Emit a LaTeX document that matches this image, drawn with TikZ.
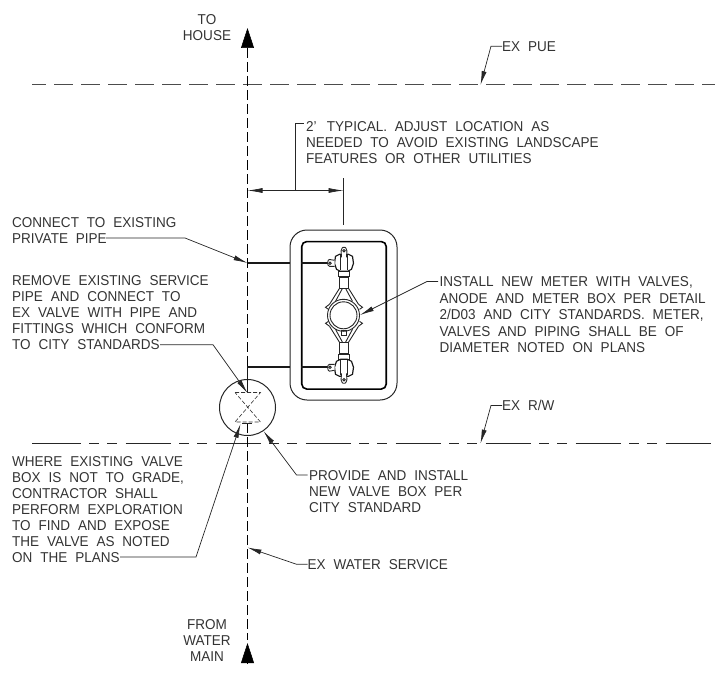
\documentclass[tikz,border=0pt]{standalone}
\usepackage{fontspec}
\setmainfont[WordSpace=2.1,FakeStretch=.945]{Liberation Sans}
\usetikzlibrary{arrows.meta}

\begin{document}
\begin{tikzpicture}
  [x=1pt,y=-1pt,
   every node/.style={inner sep=0pt,text=black!80},
   note/.style={anchor=north west,align=left,font=\fontsize{14.3}{16}\selectfont},
   centernote/.style={anchor=center,align=center,font=\fontsize{14.3}{16}\selectfont},
   leader/.style={line width=.7pt,black!85,-{Latex[length=14pt,width=5pt]}},
   bigarrow/.style={line width=.5pt,-{Triangle[length=20pt,width=13pt]}},
   service/.style={line width=.7pt,dash pattern=on 10pt off 4pt},
   pipe/.style={line width=1.9pt,black!90},
   thin part/.style={line width=.9pt,black!85},
   meterhalf/.pic={
     \draw[thin part,fill=white] (-5,-44) rectangle (6,-39);
     \draw[thin part] (-4,-38) rectangle (5,-27);
     \draw[thin part] (-4,-27) -- (-14,-11) (5,-27) -- (15,-11);
     \draw[thin part] (-1,-27) -- (-8,-14) (2,-27) -- (9,-14);
     \draw[thin part] (-14,-11) -- (-18,-8) -- (-15,-6) (15,-11) -- (19,-8) -- (16,-6);
     \draw[pipe,line width=1.2pt,fill=white]
       (-4,-61) -- (-8,-59) -- (-9,-52) -- (-7,-46) -- (-3,-44) -- (4,-44) -- (8,-46)
       -- (10,-52) -- (9,-59) -- (5,-61) -- cycle;
     \draw[thin part] (-3,-60) -- (-3,-45) (4,-60) -- (4,-45);
     \draw[thin part,fill=white,rounded corners=1.5pt] (-2,-58) -- (-2.5,-66) -- (0.5,-69) -- (3.5,-66) -- (3,-58);
     \draw[thin part] (0.5,-64.5) circle (1.2);
     \draw[thin part,fill=white,rounded corners=1pt] (-9,-55) -- (-15,-56) -- (-16,-52) -- (-15,-49) -- (-9,-49);
     \draw[thin part] (-13.5,-52) circle (1.2);
   }]
  \useasboundingbox (0,0) rectangle (726,677);

  % property lines
  \draw[line width=.9pt,black!70,dash pattern=on 18.5pt off 8.5pt,dash phase=5pt] (32,84.5) -- (715,84.5);
  \draw[line width=.9pt,black!85,dash pattern=on 45.5pt off 8pt on 10pt off 8.25pt on 10pt off 8.25pt,dash phase=86.3pt]
    (32,443.5) -- (715,443.5);
  \draw[line width=.9pt,black!85] (32,443.5) -- (36,443.5);

  % service line
  \coordinate (topBase) at (247.5,48);
  \coordinate (topTip) at (247.5,28);
  \coordinate (botBase) at (247.5,664);
  \coordinate (botTip) at (247.5,643);
  \coordinate (bendTop) at (247.5,263);
  \coordinate (bendBot) at (247.5,367);
  \coordinate (stem) at (247.5,423);
  \coordinate (lineEnd) at (247.5,640);
  \draw[service] (topBase) -- (bendBot);
  \draw[service] (stem) -- (lineEnd);
  \draw[bigarrow] (topBase) -- (topTip);
  \draw[bigarrow] (botBase) -- (botTip);

  % valve box
  \node (valvebox) [circle,draw=black!85,line width=1pt,minimum size=56pt] at (247.5,407.5) {};
  \draw[line width=.6pt,black!80,dashed,dash pattern=on 4pt off 2pt]
    (235,392.5) -- (260.5,392.5) -- (235,422) -- (260.5,422) -- cycle;
  \draw[thin part] (242,423) -- (252,423);

  % meter box
  \node (outerbox) [draw=black!85,line width=1pt,rounded corners=17pt,minimum width=107pt,minimum height=170pt] at (343.5,315) {};
  \node (innerbox) [draw=black,line width=1.6pt,rounded corners=5pt,minimum width=84.5pt,minimum height=147.5pt] at (344,315.3) {};
  \draw[pipe] (bendTop) -- (outerbox.west |- bendTop);
  \draw[pipe] (247.5,392) -- (bendBot) -- (outerbox.west |- bendBot);
  \draw[pipe] (innerbox.west |- bendTop) -- (330,263);
  \draw[pipe] (innerbox.west |- bendBot) -- (330,367);

  % meter
  \coordinate (meter) at (343.5,315.3);
  \pic at (meter) {meterhalf};
  \pic[yscale=-1] at (meter) {meterhalf};
  \draw[thin part,fill=white] (meter) circle (16);
  \draw[thin part] (meter) circle (13.5);
  \draw[thin part] (341,330) rectangle (346,335);

  % dimension
  \coordinate (dimLeft) at (247.5,190.5);
  \coordinate (dimRight) at (343.5,190.5);
  \coordinate (dimTick) at (343.5,178);
  \coordinate (dimTickEnd) at (343.5,225);
  \coordinate (dimUp) at (295.5,190.5);
  \coordinate (dimCorner) at (295.5,123.5);
  \draw[line width=.7pt,black!85,{Latex[length=15pt,width=5pt]}-{Latex[length=15pt,width=5pt]}] (dimLeft) -- (dimRight);
  \draw[line width=.7pt,black!85] (dimTick) -- (dimTickEnd);
  \draw[line width=.7pt,black!85] (dimUp) -- (dimCorner) -- (304,123.5);

  % notes
  \node (toHouse) [centernote] at (207,28) {TO\\HOUSE};
  \node (fromMain) [centernote] at (207,641) {FROM\\WATER\\MAIN};
  \node (exPue) [note] at (502,41) {EX PUE};
  \node (exRw) [note] at (502,400) {EX R/W};
  \node (exService) [note] at (307.5,559) {EX WATER SERVICE};
  \node (typical) [note] at (306,121) {2'\, TYPICAL. ADJUST LOCATION AS\\NEEDED TO AVOID EXISTING LANDSCAPE\\FEATURES OR OTHER UTILITIES};
  \node (install) [note,font=\fontsize{14.3}{16.5}\selectfont] at (439.5,276.5) {INSTALL NEW METER WITH VALVES,\\ANODE AND METER BOX PER DETAIL\\2/D03 AND CITY STANDARDS. METER,\\VALVES AND PIPING SHALL BE OF\\DIAMETER NOTED ON PLANS};
  \node (provide) [note] at (309,470) {PROVIDE AND INSTALL\\NEW VALVE BOX PER\\CITY STANDARD};
  \node (connect) [note] at (12,217) {CONNECT TO EXISTING\\PRIVATE PIPE};
  \node (removePipe) [note] at (12,275.7) {REMOVE EXISTING SERVICE\\PIPE AND CONNECT TO\\EX VALVE WITH PIPE AND\\FITTINGS WHICH CONFORM\\TO CITY STANDARDS};
  \node (whereBox) [note] at (12,456) {WHERE EXISTING VALVE\\BOX IS NOT TO GRADE,\\CONTRACTOR SHALL\\PERFORM EXPLORATION\\TO FIND AND EXPOSE\\THE VALVE AS NOTED\\ON THE PLANS};

  % leaders
  \coordinate (installFrom) at (438,281.5);
  \coordinate (provideFrom) at (307.5,475);
  \coordinate (connectFrom) at (106,238);
  \coordinate (removeFrom) at (160,344.7);
  \coordinate (whereFrom) at (120,557);
  \coordinate (pueTip) at (480.5,85);
  \coordinate (rwTip) at (480.5,443.5);
  \coordinate (meterTip) at (360,315);
  \coordinate (boxTip) at (263.5,431);
  \coordinate (serviceTip) at (247.5,547.5);
  \coordinate (valveTip) at (247.5,393);
  \coordinate (stemTip) at (240.5,424);

  \foreach \from/\to in {exPue.west/pueTip,exRw.west/rwTip,exService.west/serviceTip,installFrom/meterTip,provideFrom/boxTip}
    \draw[leader] (\from) -- ++(-11,0) -- (\to);
  \draw[leader] (connectFrom) -- ++(79,0) -- (bendTop);
  \draw[leader] (removeFrom) -- ++(53,0) -- (valveTip);
  \draw[leader] (whereFrom) -- ++(76,0) -- (stemTip);
\end{tikzpicture}
\end{document}
